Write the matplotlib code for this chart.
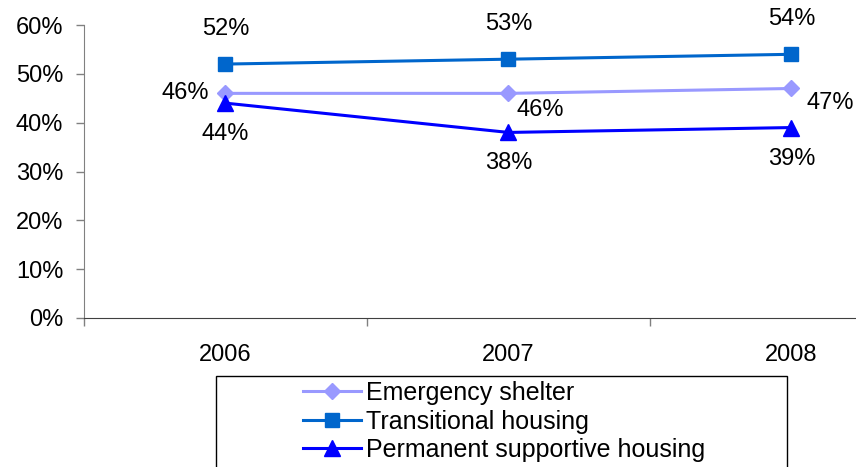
import numpy as np
import matplotlib
matplotlib.use("Agg")
import matplotlib.pyplot as plt
from matplotlib.patches import Rectangle
from matplotlib.ticker import PercentFormatter

plt.rcParams['font.family'] = ['Liberation Sans', 'DejaVu Sans']

years = ['2006', '2007', '2008']
emergency = [46, 46, 47]
transitional = [52, 53, 54]
permanent = [44, 38, 39]

fig = plt.figure(figsize=(8.56, 4.67), dpi=100)
W, H = 856.0, 467.0
ax = fig.add_axes([84/W, 1-318/H, (933-84)/W, (318-25)/H])

x = np.arange(len(years))
ax.plot(x, emergency, color='#9999FF', lw=2.2, marker='D', ms=8.5, label='Emergency shelter')
ax.plot(x, transitional, color='#0066CC', lw=2.2, marker='s', ms=10, label='Transitional housing')
ax.plot(x, permanent, color='#0000FF', lw=2.2, marker='^', ms=11, label='Permanent supportive housing')

fs = 17
# data labels (offsets in pixels)
es_off = [(-16, 0, 'right'), (8, -17, 'left'), (15, -15, 'left')]
for i, v in enumerate(emergency):
    dx, dy, ha = es_off[i]
    ax.annotate(f'{v}%', (x[i], v), xytext=(dx, dy), textcoords='offset pixels',
                ha=ha, va='center', fontsize=fs)
for i, v in enumerate(transitional):
    ax.annotate(f'{v}%', (x[i], v), xytext=(0, 35), textcoords='offset pixels',
                ha='center', va='center', fontsize=fs)
for i, v in enumerate(permanent):
    ax.annotate(f'{v}%', (x[i], v), xytext=(0, -31), textcoords='offset pixels',
                ha='center', va='center', fontsize=fs)

ax.set_xlim(-0.5, 2.5)
ax.set_ylim(0, 60)
ax.set_yticks(np.arange(0, 61, 10))
ax.yaxis.set_major_formatter(PercentFormatter(decimals=0))
ax.set_xticks(x)
ax.set_xticklabels(years)
ax.set_xticks([-0.5, 0.5, 1.5, 2.5], minor=True)
ax.tick_params(axis='x', which='major', length=0, pad=19, labelsize=fs)
ax.tick_params(axis='x', which='minor', length=6, width=1, color='#808080', direction='out')
ax.tick_params(axis='y', length=6, width=1, color='#808080', pad=9, labelsize=fs)

for s in ['top', 'right']:
    ax.spines[s].set_visible(False)
ax.spines['left'].set_color('#808080')
ax.spines['bottom'].set_color('#404040')

# legend box
fig.patches.append(Rectangle((216/W, -0.05), (787-216)/W, (1-376/H)+0.05,
                             transform=fig.transFigure, fill=False,
                             edgecolor='black', lw=1))
fig.legend(loc='upper left', bbox_to_anchor=(293/W, 1-371/H), frameon=False,
           fontsize=18, handlelength=2.3, handletextpad=0.2, labelspacing=0.18,
           borderaxespad=0)

fig.savefig('out.png', dpi=100)
